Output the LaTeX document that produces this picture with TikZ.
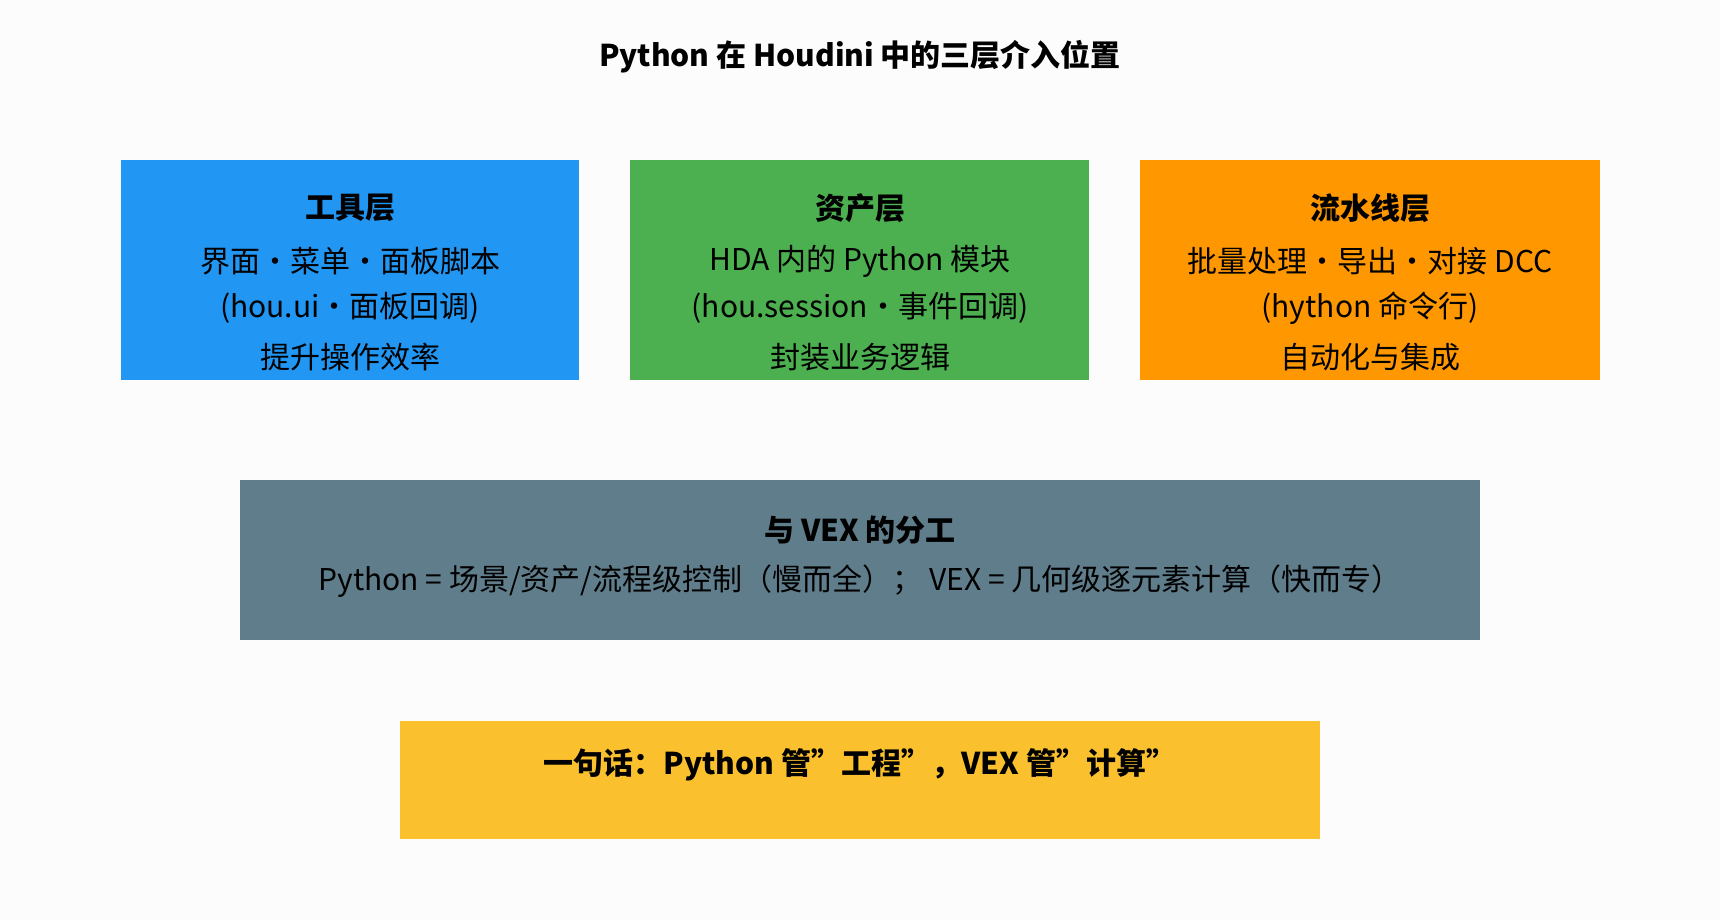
\documentclass[tikz,border=0pt]{standalone}
\usepackage{fontspec}
\setmainfont{Noto Sans CJK SC}
\begin{document}
\begin{tikzpicture}[x=1pt,y=-1pt,
 box/.style={draw=none,anchor=north west,inner sep=0pt},
 txt/.style={font=\fontsize{30}{36}\selectfont,text=black},
 bt/.style={font=\fontsize{30}{36}\selectfont\bfseries,text=black}]
\definecolor{bg}{HTML}{FCFCFC}
\definecolor{cb}{HTML}{2196F3}\definecolor{cg}{HTML}{4CAF50}
\definecolor{co}{HTML}{FF9800}\definecolor{cs}{HTML}{607D8B}
\definecolor{cy}{HTML}{FBC02D}
\fill[bg] (0,0) rectangle (1720,920);
\useasboundingbox (0,0) rectangle (1720,920);
\node[bt] (title) at (860,57) {Python 在 Houdini 中的三层介入位置};
\fill[cb] (121,160) rectangle (579,380);
\fill[cg] (630,160) rectangle (1089,380);
\fill[co] (1140,160) rectangle (1600,380);
\fill[cs] (240,480) rectangle (1480,640);
\fill[cy] (400,721) rectangle (1320,839);
\node[bt] (t1) at (350,208) {工具层};
\node[txt] (a1) at (350,261) {界面·菜单·面板脚本};
\node[txt] (b1) at (350,308) {(hou.ui·面板回调)};
\node[txt] (c1) at (350,357) {提升操作效率};
\node[bt] (t2) at (860,208) {资产层};
\node[txt] (a2) at (860,261) {HDA 内的 Python 模块};
\node[txt] (b2) at (860,308) {(hou.session·事件回调)};
\node[txt] (c2) at (860,357) {封装业务逻辑};
\node[bt] (t3) at (1370,208) {流水线层};
\node[txt] (a3) at (1370,261) {批量处理·导出·对接 DCC};
\node[txt] (b3) at (1370,308) {(hython 命令行)};
\node[txt] (c3) at (1370,357) {自动化与集成};
\node[bt] (t4) at (860,530) {与 VEX 的分工};
\node[txt] (a4) at (860,581) {Python = 场景/资产/流程级控制（慢而全）； VEX = 几何级逐元素计算（快而专）};
\node[bt] (t5) at (860,765) {一句话：Python 管"工程"，VEX 管"计算"};
\end{tikzpicture}
\end{document}
